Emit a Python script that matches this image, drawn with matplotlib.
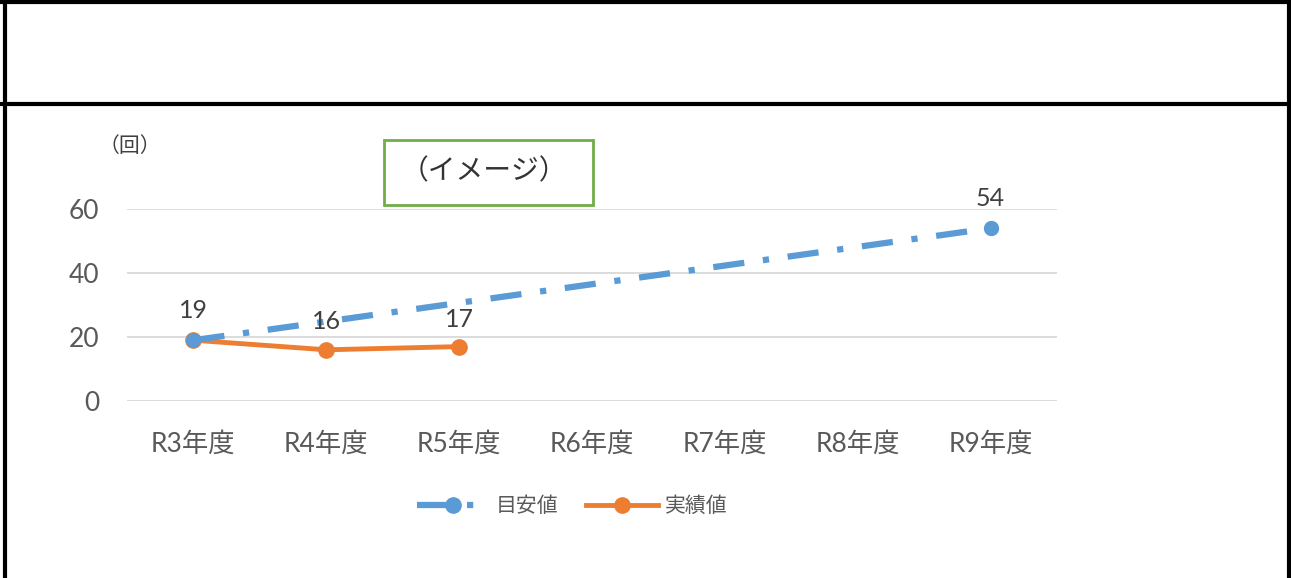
import matplotlib
matplotlib.use("Agg")
import matplotlib.pyplot as plt
from matplotlib.lines import Line2D

FAM = ['Lato', 'Noto Sans CJK JP', 'DejaVu Sans']
plt.rcParams['font.family'] = FAM

categories = ["R3年度", "R4年度", "R5年度", "R6年度", "R7年度", "R8年度", "R9年度"]
target_idx = [0, 6]
target_vals = [19, 54]
actual_idx = [0, 1, 2]
actual_vals = [19, 16, 17]
yticks = [0, 20, 40, 60]

W, H = 1291, 578
fig = plt.figure(figsize=(W / 100, H / 100), dpi=100)

def fx(px):
    return px / W

def fy(py):
    return 1 - py / H

ax = fig.add_axes([fx(127), fy(401), fx(1057) - fx(127), fy(209) - fy(401)])

blue = "#5B9BD5"
orange = "#ED7D31"

ax.plot(target_idx, target_vals, color=blue, lw=4.5, dashes=(5, 3, 1, 3),
        marker="o", ms=10, zorder=3)
ax.plot(actual_idx, actual_vals, color=orange, lw=3.5, marker="o", ms=11, zorder=2)

offsets = {0: 13, 1: 12, 2: 11}
for i, v in zip(actual_idx, actual_vals):
    ax.annotate(str(v), (i, v), xytext=(0, offsets[i]), textcoords="offset points",
                ha="center", va="bottom", fontsize=18, color="#404040")
ax.annotate(str(target_vals[-1]), (target_idx[-1], target_vals[-1]), xytext=(0, 13),
            textcoords="offset points", ha="center", va="bottom", fontsize=18, color="#404040")

ax.set_xlim(-0.5, len(categories) - 0.5)
ax.set_ylim(0, 60)
ax.set_yticks(yticks)
ax.set_xticks(range(len(categories)))
ax.set_xticklabels(categories)
ax.tick_params(axis="both", length=0, labelsize=19, labelcolor="#595959")
ax.tick_params(axis="y", pad=20)
ax.tick_params(axis="x", pad=22)
for s in ax.spines.values():
    s.set_visible(False)
ax.grid(axis="y", color="#D9D9D9", lw=1.3)
ax.set_axisbelow(True)
ax.patch.set_alpha(0)

# unit label
fig.text(fx(130), fy(146), "（回）", fontsize=15, color="#404040", ha="center", va="center")

# image box
fig.text(fx(484), fy(171), "（イメージ）", fontsize=20, color="#333333", ha="center", va="center")
fig.add_artist(plt.Rectangle((fx(384), fy(205)), fx(593) - fx(384), fy(140) - fy(205),
                             transform=fig.transFigure, fill=False, ec="#70AD47", lw=2))

# legend
handles = [Line2D([], [], color=blue, lw=4.5, dashes=(5, 3, 1, 3), marker="o", ms=11),
           Line2D([], [], color=orange, lw=3.5, marker="o", ms=11)]
fig.legend(handles, ["目安値", "実績値"], loc="center", bbox_to_anchor=(fx(572), fy(506)),
           ncol=2, frameon=False, fontsize=15, labelcolor="#595959",
           handlelength=3.5, columnspacing=1.3, handletextpad=0.3)

# frame lines
k = "black"
fig.add_artist(Line2D([fx(0), fx(W)], [fy(1.5), fy(1.5)], color=k, lw=3, transform=fig.transFigure))
fig.add_artist(Line2D([fx(0), fx(W)], [fy(103.5), fy(103.5)], color=k, lw=3, transform=fig.transFigure))
fig.add_artist(Line2D([fx(4.5), fx(4.5)], [fy(0), fy(H)], color=k, lw=3, transform=fig.transFigure))
fig.add_artist(Line2D([fx(1289), fx(1289)], [fy(0), fy(H)], color=k, lw=3, transform=fig.transFigure))

fig.savefig("out.png", dpi=100)
